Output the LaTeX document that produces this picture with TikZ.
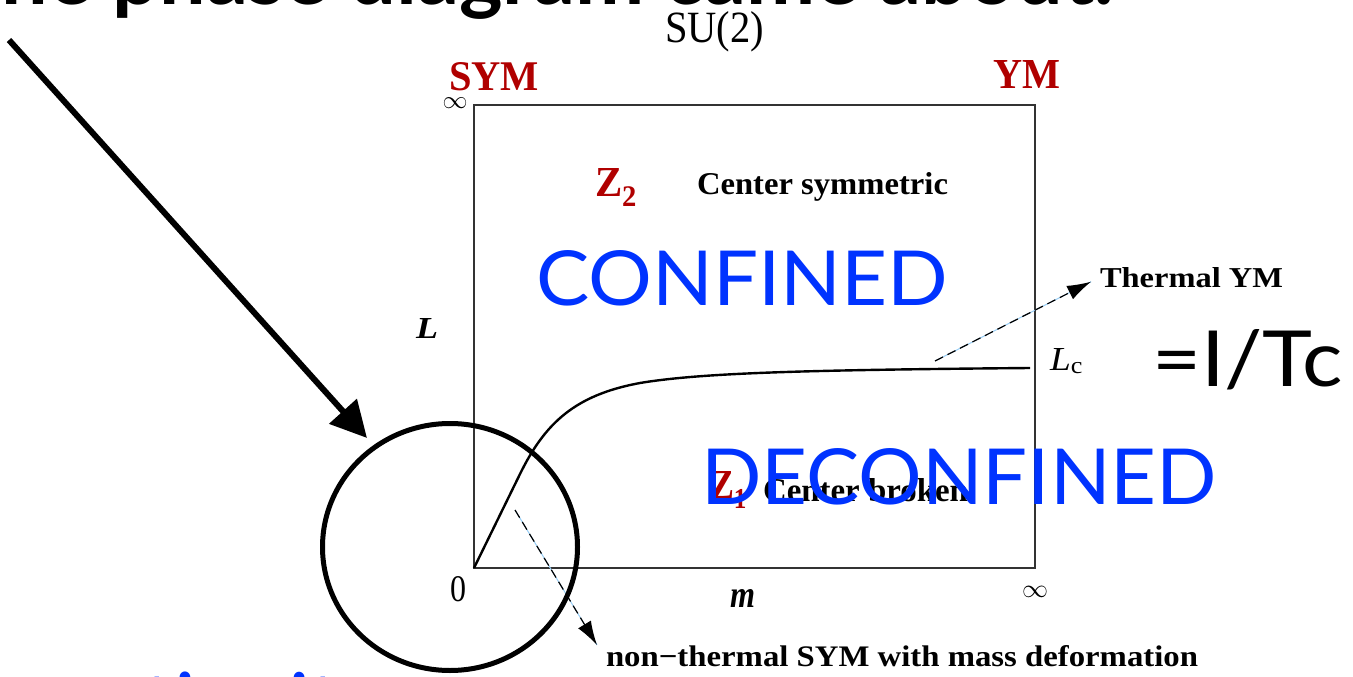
\documentclass[tikz,border=0pt]{standalone}
\usepackage{graphicx}
\usepackage{fontspec}
\setmainfont{Liberation Serif}
\newfontfamily\gill{Lato}
\usetikzlibrary{arrows.meta,shapes.geometric}
\definecolor{symred}{RGB}{176,0,0}
\definecolor{phblue}{RGB}{0,51,255}
\definecolor{dashblue}{RGB}{150,205,245}
\newcommand\fb[4]{\resizebox{#1pt}{#2pt}{\fontsize{#3pt}{#3pt}\selectfont #4}}
\newcommand\titlefont{\fontsize{80pt}{80pt}\selectfont\gill\bfseries}
\newlength\titlew
\begin{document}
\settowidth\titlew{\titlefont phase diagram came about:}
\pgfmathsetmacro\titlesc{1002/\titlew}
\begin{tikzpicture}[x=1pt,y=-1pt,
  lbl/.style={inner sep=0pt, outer sep=0pt, anchor=base west},
  axisline/.style={draw=black!80, line width=1.4pt},
  dasharr/.style={draw=black, line width=1.2pt, dash pattern=on 9pt off 5pt,
     preaction={draw=dashblue, line width=1pt, solid, -},
     -{Latex[length=24pt,width=15pt]}},
  bigarr/.style={line width=6pt, -{Triangle[length=36pt,width=36pt]}}]
\useasboundingbox (0,0) rectangle (1353,677);
\clip (0,0) rectangle (1353,677);

% title and bottom text (partly cut off)
\node[anchor=base east, inner sep=0pt] (title) at (1115,5)
  {\scalebox{\titlesc}{\titlefont The phase diagram came about:}};
\node[anchor=base west, inner sep=0pt, text=phblue] (cont) at (10,733)
  {\fontsize{84pt}{84pt}\selectfont\gill continuity};

% frame
\coordinate (O) at (474,568);
\coordinate (TR) at (1035,105);
\draw[axisline] (O) rectangle (TR);

% critical curve
\coordinate (Lcend) at (1030,368);
\draw[line width=2.4pt] (O) -- (520,474) .. controls (545,423) and (575,395) .. (640,383)
   .. controls (700,373) and (800,370) .. (Lcend);

% labels
\node[lbl] (su2) at (665,42) {\fb{99}{31}{42}{SU(2)}};
\node[lbl, text=symred] (sym) at (449,91) {\fb{90}{28}{42}{\bfseries SYM}};
\node[lbl, text=symred] (ym) at (993,89) {\fb{67}{28}{42}{\bfseries YM}};
\node[inner sep=0pt] (inf1) at (455,103) {\resizebox{25pt}{!}{$\infty$}};
\node[inner sep=0pt] (inf2) at (1035,592) {\resizebox{26pt}{!}{$\infty$}};
\node[lbl] (zero) at (450,601) {\fb{16}{25}{36}{0}};
\node[lbl, text=symred] (z2) at (595,196) {\fb{42}{28}{41}{\bfseries Z\textsubscript{2}}};
\node[lbl] (csym) at (697,194) {\fb{251}{22}{33}{\bfseries Center symmetric}};
\node[lbl, text=phblue] (conf) at (536,305) {\fb{412}{55}{76}{\gill CONFINED}};
\node[lbl] (Llab) at (416,338) {\fb{22}{20}{30}{\bfseries\itshape L}};
\node[lbl] (Lc) at (1050,370) {\fb{33}{22}{32}{\itshape L\textsubscript{\upshape c}}};
\node[lbl] (tc) at (1152,386) {\fb{191}{57}{79}{\gill =I/Tc}};
\node[lbl] (thermal) at (1100,287) {\fb{183}{20}{30}{\bfseries Thermal YM}};
\node[lbl, text=symred] (z1) at (710,498) {\fb{37}{27}{41}{\bfseries Z\textsubscript{1}}};
\node[lbl] (cbrk) at (763,501) {\fb{205}{23}{34}{\bfseries Center broken}};
\node[lbl, text=phblue] (deconf) at (701,504) {\fb{516}{56}{78}{\gill DECONFINED}};
\node[lbl] (mlab) at (730,607) {\fb{25}{18}{38}{\bfseries\itshape m}};
\node[lbl] (nonth) at (606,666) {\fb{592}{21}{32}{\bfseries non−thermal SYM with mass deformation}};

% dashed arrows
\coordinate (tyS) at (935,361);
\draw[dasharr, shorten >=10pt] (tyS) -- (thermal.west);
\coordinate (ntS) at (515,510);
\coordinate (ntE) at (597,645);
\draw[dasharr] (ntS) -- (ntE);

% circle and big arrow
\node[draw, ellipse, line width=5pt, minimum width=255pt, minimum height=247pt, inner sep=0pt] (circ) at (450,547) {};
\coordinate (bigS) at (9,40);
\coordinate (bigE) at (367,438);
\draw[bigarr] (bigS) -- (bigE);
\end{tikzpicture}
\end{document}
